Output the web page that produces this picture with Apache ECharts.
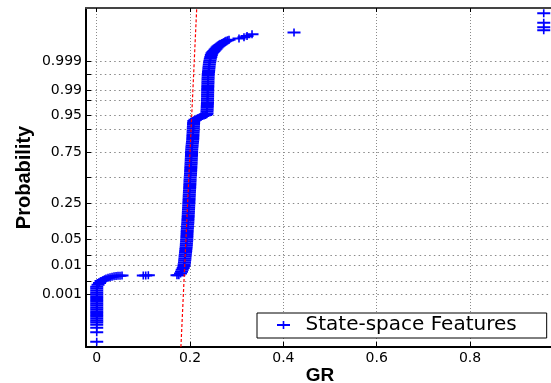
<!DOCTYPE html>
<html>
<head>
<meta charset="utf-8">
<script src="https://cdn.jsdelivr.net/npm/echarts@6/dist/echarts.min.js"></script>
<style>
html,body{margin:0;padding:0;background:#fff;}
#chart{width:551px;height:383px;}
</style>
</head>
<body>
<div id="chart"></div>
<script>
// ---- Data: [GR, cumulative probability] ----
const lowerTail = [
  [0, 0.0000065], [0, 0.0000198], [0, 0.0000330], [0, 0.0000462], [0, 0.0000591],
  [0, 0.0000723], [0, 0.0000884], [0, 0.0001078], [0, 0.0001311], [0, 0.0001591],
  [0, 0.0001926], [0, 0.0002326], [0, 0.0002803], [0, 0.0003369], [0, 0.0004041],
  [0, 0.0004834], [0, 0.000577], [0, 0.0006871], [0, 0.0008164], [0, 0.0009676],
  [0, 0.001144], [0, 0.00135], [0, 0.001589], [0, 0.001866]
];
const lowerBend = [
  [0.0028, 0.002186], [0.0060, 0.002555], [0.0092, 0.00298], [0.0135, 0.003263],
  [0.0167, 0.003467], [0.0199, 0.00368], [0.0242, 0.003907], [0.0285, 0.004085],
  [0.0328, 0.004208], [0.0371, 0.004335], [0.0414, 0.004427], [0.0456, 0.004507],
  [0.0499, 0.004574], [0.0542, 0.00462]
];
const lowerGap = [
  [0.0998, 0.004661], [0.1050, 0.004675], [0.1106, 0.004688], [0.1720, 0.004702], [0.1760, 0.004729]
];
const mainBand = [
  [0.1796, 0.005386], [0.1817, 0.00621], [0.1832, 0.007143], [0.1853, 0.008198], [0.1868, 0.009387],
  [0.1874, 0.010724], [0.1881, 0.012224], [0.1886, 0.013903], [0.1890, 0.015778], [0.1894, 0.017864],
  [0.1898, 0.020182], [0.1903, 0.02275], [0.1907, 0.025588], [0.1911, 0.028717], [0.1916, 0.032157],
  [0.1920, 0.03593], [0.1922, 0.040059], [0.1926, 0.044565], [0.1929, 0.049471], [0.1931, 0.054799],
  [0.1933, 0.060571], [0.1935, 0.066807], [0.1937, 0.073529], [0.1939, 0.080757], [0.1943, 0.088508],
  [0.1946, 0.0968], [0.1948, 0.10565], [0.1952, 0.11507], [0.1954, 0.125072], [0.1956, 0.135666],
  [0.1959, 0.146859], [0.1961, 0.158655], [0.1963, 0.171056], [0.1965, 0.18406], [0.1967, 0.197663],
  [0.1969, 0.211855], [0.1971, 0.226627], [0.1973, 0.241964], [0.1976, 0.257846], [0.1978, 0.274253],
  [0.1980, 0.29116], [0.1982, 0.308538], [0.1984, 0.326355], [0.1986, 0.344578], [0.1988, 0.363169],
  [0.1991, 0.382089], [0.1993, 0.401294], [0.1995, 0.42074], [0.1997, 0.440382], [0.1999, 0.460172],
  [0.2001, 0.480061], [0.2003, 0.5], [0.2008, 0.519939], [0.2010, 0.539828], [0.2012, 0.559618],
  [0.2014, 0.57926], [0.2016, 0.598706], [0.2018, 0.617911], [0.2021, 0.636831], [0.2023, 0.655422],
  [0.2025, 0.673645], [0.2027, 0.691462], [0.2029, 0.70884], [0.2031, 0.725747], [0.2032, 0.742154],
  [0.2033, 0.758036], [0.2036, 0.773373], [0.2040, 0.788145], [0.2044, 0.802337], [0.2048, 0.81594],
  [0.2053, 0.828944], [0.2057, 0.841345], [0.2059, 0.853141], [0.2061, 0.864334], [0.2063, 0.874928],
  [0.2066, 0.88493], [0.2068, 0.89435], [0.2070, 0.9032], [0.2072, 0.911492], [0.2074, 0.919243],
  [0.2076, 0.926471], [0.2081, 0.933193]
];
const upperBend = [
  [0.2106, 0.93699], [0.2138, 0.94062], [0.2171, 0.94295], [0.2203, 0.945201], [0.2235, 0.94684],
  [0.2267, 0.94845], [0.2299, 0.95002], [0.2331, 0.95154], [0.2353, 0.95352], [0.2363, 0.955435]
];
const upperBand = [
  [0.2363, 0.959941], [0.2366, 0.96407], [0.2368, 0.967843], [0.2370, 0.971283], [0.2372, 0.974412],
  [0.2374, 0.97725], [0.2374, 0.979818], [0.2375, 0.982136], [0.2376, 0.984222], [0.2376, 0.986097],
  [0.2377, 0.987776], [0.2378, 0.989276], [0.2378, 0.990613], [0.2380, 0.991802], [0.2381, 0.992857],
  [0.2383, 0.99379], [0.2384, 0.994614], [0.2385, 0.995339], [0.2387, 0.995975], [0.2389, 0.996533],
  [0.2391, 0.99702], [0.2396, 0.997445], [0.2400, 0.997814], [0.2404, 0.998134], [0.2408, 0.998411],
  [0.2413, 0.99865], [0.2419, 0.998856], [0.2426, 0.999032], [0.2434, 0.999184], [0.2445, 0.999313],
  [0.2456, 0.999423], [0.2471, 0.999517]
];
const topBend = [
  [0.2492, 0.999566], [0.2513, 0.99961], [0.2535, 0.999651], [0.2556, 0.999687], [0.2578, 0.99972],
  [0.2599, 0.999749], [0.2621, 0.999767], [0.2642, 0.999784], [0.2664, 0.9998], [0.2685, 0.999814],
  [0.2706, 0.999828], [0.2728, 0.999841], [0.2749, 0.99985], [0.2771, 0.999858], [0.2803, 0.999866],
  [0.2835, 0.999874]
];
const upperOutliers = [
  [0.3049, 0.999888], [0.3156, 0.999901], [0.3221, 0.999915], [0.3328, 0.999928], [0.4228, 0.999941],
  [0.958, 0.999954], [0.958, 0.999967], [0.958, 0.99998], [0.958, 0.9999935]
];

// Reference (fit) line end points
const refLineGR = [0.1804, 0.2143];
const refLineProb = [0.0000034, 0.9999966];

// Axis ticks
const xTicks = [0, 0.2, 0.4, 0.6, 0.8];
const xTickLabels = ['0', '0.2', '0.4', '0.6', '0.8'];
const probGrid = [0.001, 0.003, 0.01, 0.02, 0.05, 0.10, 0.25, 0.5, 0.75, 0.90, 0.95, 0.98, 0.99, 0.997, 0.999];
const probLabelValues = [0.001, 0.01, 0.05, 0.25, 0.75, 0.95, 0.99, 0.999];
const probLabelTexts = ['0.001', '0.01', '0.05', '0.25', '0.75', '0.95', '0.99', '0.999'];
const seriesName = 'State-space Features';

// ---- normal quantile scale (probability -> z) ----
function norminv(p) {
  const a = [-3.969683028665376e+01, 2.209460984245205e+02, -2.759285104469687e+02, 1.383577518672690e+02, -3.066479806614716e+01, 2.506628277459239e+00];
  const b = [-5.447609879822406e+01, 1.615858368580409e+02, -1.556989798598866e+02, 6.680131188771972e+01, -1.328068155288572e+01];
  const c = [-7.784894002430293e-03, -3.223964580411365e-01, -2.400758277161838e+00, -2.549671010243560e+00, 4.374664141464968e+00, 2.938163982698783e+00];
  const d = [7.784695709041462e-03, 3.224671290700398e-01, 2.445134137142996e+00, 3.754408661907416e+00];
  const pl = 0.02425, ph = 1 - pl;
  let q, r;
  if (p < pl) {
    q = Math.sqrt(-2 * Math.log(p));
    return (((((c[0]*q+c[1])*q+c[2])*q+c[3])*q+c[4])*q+c[5]) / ((((d[0]*q+d[1])*q+d[2])*q+d[3])*q+1);
  }
  if (p <= ph) {
    q = p - 0.5; r = q * q;
    return (((((a[0]*r+a[1])*r+a[2])*r+a[3])*r+a[4])*r+a[5])*q / (((((b[0]*r+b[1])*r+b[2])*r+b[3])*r+b[4])*r+1);
  }
  q = Math.sqrt(-2 * Math.log(1 - p));
  return -(((((c[0]*q+c[1])*q+c[2])*q+c[3])*q+c[4])*q+c[5]) / ((((d[0]*q+d[1])*q+d[2])*q+d[3])*q+1);
}

const allPoints = [].concat(lowerTail, lowerBend, lowerGap, mainBand, upperBend, upperBand, topBend, upperOutliers);
const scatterData = allPoints.map(pt => [pt[0], norminv(pt[1])]);
const refData = refLineGR.map((g, i) => [g, norminv(refLineProb[i])]);
const gridZ = probGrid.map(norminv);
const labelZ = probLabelValues.map(norminv);

const plusPath = 'path://M0,3H13V5H0Z M5.7,0H7.3V8H5.7Z';

const chart = echarts.init(document.getElementById('chart'), null, {renderer: 'canvas'});
const tickFont = {fontFamily: 'DejaVu Sans', fontSize: 14, color: '#000'};

chart.setOption({
  animation: false,
  backgroundColor: '#fff',
  grid: {left: 86, top: 8, right: -3, bottom: 36, containLabel: false, outerBoundsMode: 'none'},
  legend: {
    left: 257, top: 313,
    data: [{name: seriesName, icon: plusPath}],
    itemWidth: 34, itemHeight: 8, symbolKeepAspect: true,
    padding: [2, 30, 3, 20],
    backgroundColor: '#fff', borderColor: '#000', borderWidth: 1,
    textStyle: {fontFamily: 'DejaVu Sans', fontSize: 20, color: '#000'},
    selectedMode: false
  },
  xAxis: [{
    type: 'value', min: -0.023, max: 0.98, position: 'bottom',
    name: 'GR', nameLocation: 'middle', nameGap: 19, nameMoveOverlap: false,
    nameTextStyle: {fontFamily: 'Liberation Sans', fontWeight: 'bold', fontSize: 19, color: '#000'},
    axisLine: {show: true, onZero: false, lineStyle: {color: '#000', width: 2}},
    axisTick: {show: true, inside: true, length: 5, customValues: xTicks, lineStyle: {color: '#000', width: 1}},
    axisLabel: Object.assign({customValues: xTicks, margin: 4,
      formatter: v => { const i = xTicks.findIndex(t => Math.abs(t - v) < 1e-6); return i >= 0 ? xTickLabels[i] : ''; }
    }, tickFont),
    splitLine: {show: true, lineStyle: {color: '#8a8a8a', width: 1, type: [1, 2]}}
  }, {
    type: 'value', min: -0.023, max: 0.98, position: 'top',
    axisLine: {show: true, onZero: false, lineStyle: {color: '#444', width: 2}},
    axisTick: {show: true, inside: true, length: 4, customValues: xTicks, lineStyle: {color: '#000', width: 1}},
    axisLabel: {show: false},
    splitLine: {show: false}
  }],
  yAxis: [{
    type: 'value', min: -4.5, max: 4.5,
    name: 'Probability', nameLocation: 'middle', nameRotate: 90, nameGap: 52, nameMoveOverlap: false,
    nameTextStyle: {fontFamily: 'Liberation Sans', fontWeight: 'bold', fontSize: 20, color: '#000'},
    axisLine: {show: true, onZero: false, lineStyle: {color: '#000', width: 2}},
    axisTick: {show: true, inside: true, length: 5, customValues: gridZ, lineStyle: {color: '#000', width: 1}},
    axisLabel: Object.assign({customValues: labelZ, margin: 4,
      formatter: v => {
        let best = 0, bd = 1e9;
        labelZ.forEach((z, i) => { const dd = Math.abs(z - v); if (dd < bd) { bd = dd; best = i; } });
        return probLabelTexts[best];
      }
    }, tickFont),
    splitLine: {show: true, lineStyle: {color: '#8a8a8a', width: 1, type: [1.5, 3.2]}}
  }],
  series: [{
    name: seriesName, type: 'scatter',
    data: scatterData,
    symbol: plusPath, symbolSize: [13, 8],
    itemStyle: {color: '#0000ff', opacity: 1},
    z: 2
  }, {
    name: 'ref', type: 'line',
    data: refData,
    symbol: 'none',
    lineStyle: {color: '#ff0000', width: 1.2, type: [3, 2]},
    z: 3
  }]
});
</script>
</body>
</html>
